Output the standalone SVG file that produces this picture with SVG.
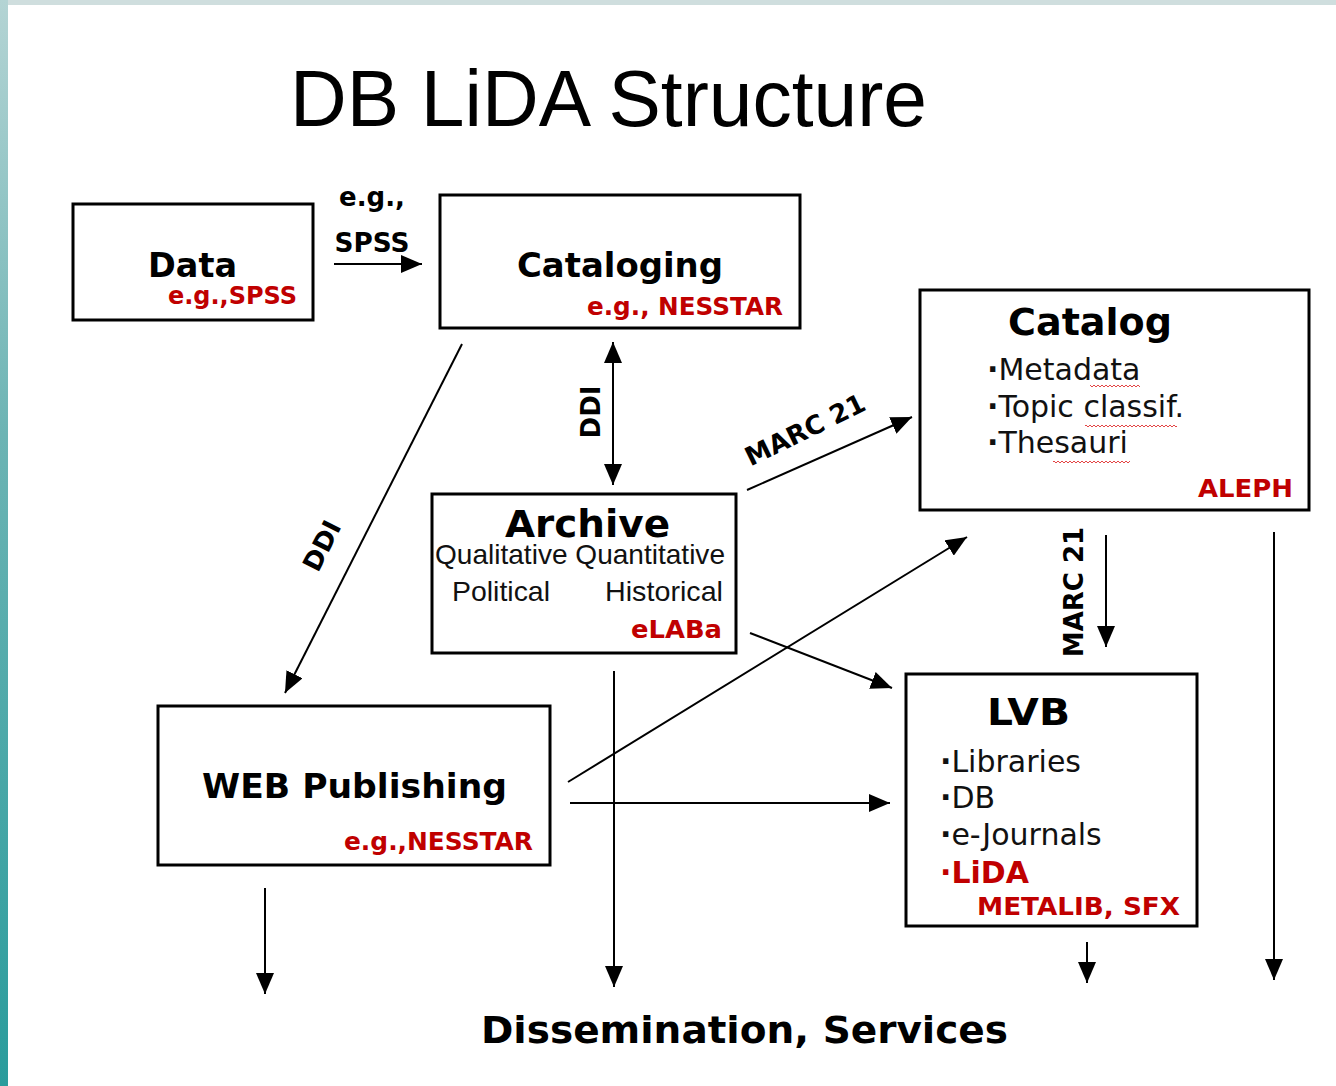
<svg xmlns="http://www.w3.org/2000/svg" width="1336" height="1086" viewBox="0 0 1336 1086">
  <defs>
    <linearGradient id="edge" x1="0" y1="0" x2="0" y2="1">
      <stop offset="0" stop-color="#b4d4d4"/>
      <stop offset="0.4" stop-color="#6cb4b4"/>
      <stop offset="1" stop-color="#2a9c9c"/>
    </linearGradient>
    <marker id="arr" markerUnits="userSpaceOnUse" markerWidth="21" markerHeight="18" refX="21" refY="9" orient="auto-start-reverse">
      <path d="M0,0 L21,9 L0,18 z" fill="#000"/>
    </marker>
    <pattern id="sq" width="4" height="4" patternUnits="userSpaceOnUse">
      <path d="M0,3 L2,1 L4,3" fill="none" stroke="#e03030" stroke-width="0.9"/>
    </pattern>
  </defs>
  <style>
    .box { fill: #fff; stroke: #000; stroke-width: 3; }
    .hd { font-family: "DejaVu Sans", Verdana, sans-serif; font-weight: bold; fill: #000; }
    .red { font-family: "DejaVu Sans", Verdana, sans-serif; font-weight: bold; fill: #c00000; }
    .item { font-family: "DejaVu Sans", Verdana, sans-serif; font-size: 30px; fill: #111; }
    .bul { font-weight: bold; }
    .ar { font-family: "Liberation Sans", Arial, sans-serif; font-size: 28px; fill: #111; }
    .lbl { font-family: "DejaVu Sans", Verdana, sans-serif; font-weight: bold; font-size: 26px; fill: #000; }
    .ln { stroke: #000; stroke-width: 2; fill: none; }
  </style>

  <rect x="0" y="0" width="1336" height="1086" fill="#fff"/>
  <rect x="0" y="0" width="1336" height="5" fill="#cfdede"/>
  <rect x="0" y="0" width="8" height="1086" fill="url(#edge)"/>

  <g id="title">
    <text x="290" y="126" font-family="Liberation Sans, Arial, sans-serif" font-size="80" textLength="637" lengthAdjust="spacingAndGlyphs" fill="#000">DB LiDA Structure</text>
  </g>

  <g id="connectors">
    <line class="ln" x1="334" y1="264" x2="422" y2="264" marker-end="url(#arr)"/>
    <line class="ln" x1="613" y1="342" x2="613" y2="485" marker-start="url(#arr)" marker-end="url(#arr)"/>
    <line class="ln" x1="462" y1="344" x2="285" y2="693" marker-end="url(#arr)"/>
    <line class="ln" x1="747" y1="490" x2="912" y2="417" marker-end="url(#arr)"/>
    <line class="ln" x1="1106" y1="535" x2="1106" y2="647" marker-end="url(#arr)"/>
    <line class="ln" x1="750" y1="633" x2="892" y2="688" marker-end="url(#arr)"/>
    <line class="ln" x1="568" y1="782" x2="967" y2="537" marker-end="url(#arr)"/>
    <line class="ln" x1="570" y1="803" x2="890" y2="803" marker-end="url(#arr)"/>
    <line class="ln" x1="265" y1="888" x2="265" y2="994" marker-end="url(#arr)"/>
    <line class="ln" x1="614" y1="671" x2="614" y2="987" marker-end="url(#arr)"/>
    <line class="ln" x1="1087" y1="942" x2="1087" y2="983" marker-end="url(#arr)"/>
    <line class="ln" x1="1274" y1="532" x2="1274" y2="980" marker-end="url(#arr)"/>

    <text class="lbl" x="372" y="206" font-size="23" text-anchor="middle">e.g.,</text>
    <text class="lbl" x="372" y="252" font-size="25" text-anchor="middle" textLength="75" lengthAdjust="spacingAndGlyphs">SPSS</text>
    <text class="lbl" transform="translate(600,412) rotate(-90)" text-anchor="middle" font-size="27">DDI</text>
    <text class="lbl" transform="translate(330,550) rotate(-63)" text-anchor="middle">DDI</text>
    <text class="lbl" font-size="25" transform="translate(809,438) rotate(-26)" text-anchor="middle">MARC 21</text>
    <text class="lbl" transform="translate(1083,592) rotate(-90)" text-anchor="middle">MARC 21</text>
  </g>

  <g id="node-data">
    <rect class="box" x="73" y="204" width="240" height="116"/>
    <text class="hd" x="148" y="277" font-size="33" textLength="89" lengthAdjust="spacingAndGlyphs">Data</text>
    <text class="red" x="168" y="304" font-size="24" textLength="129" lengthAdjust="spacingAndGlyphs">e.g.,SPSS</text>
  </g>

  <g id="node-cataloging">
    <rect class="box" x="440" y="195" width="360" height="133"/>
    <text class="hd" x="517" y="277" font-size="34" textLength="206" lengthAdjust="spacingAndGlyphs">Cataloging</text>
    <text class="red" x="587" y="315" font-size="24" textLength="196" lengthAdjust="spacingAndGlyphs">e.g., NESSTAR</text>
  </g>

  <g id="node-catalog">
    <rect class="box" x="920" y="290" width="389" height="220"/>
    <text class="hd" x="1008" y="335" font-size="38" textLength="164" lengthAdjust="spacingAndGlyphs">Catalog</text>
    <text class="item" x="987" y="380"><tspan class="bul">·</tspan>Metadata</text>
    <text class="item" x="987" y="417"><tspan class="bul">·</tspan>Topic classif.</text>
    <text class="item" x="987" y="453"><tspan class="bul">·</tspan>Thesauri</text>
    <rect x="1090" y="384" width="50" height="4" fill="url(#sq)"/>
    <rect x="1085" y="424" width="92" height="4" fill="url(#sq)"/>
    <rect x="1053" y="460" width="77" height="4" fill="url(#sq)"/>
    <text class="red" x="1198" y="497" font-size="25" textLength="95" lengthAdjust="spacingAndGlyphs">ALEPH</text>
  </g>

  <g id="node-archive">
    <rect class="box" x="432" y="494" width="304" height="159"/>
    <text class="hd" x="505" y="537" font-size="37" textLength="165" lengthAdjust="spacingAndGlyphs">Archive</text>
    <text class="ar" x="435" y="564" textLength="290" lengthAdjust="spacingAndGlyphs">Qualitative Quantitative</text>
    <text class="ar" x="452" y="601" font-size="29" textLength="98" lengthAdjust="spacingAndGlyphs">Political</text>
    <text class="ar" x="605" y="601" font-size="29" textLength="118" lengthAdjust="spacingAndGlyphs">Historical</text>
    <text class="red" x="631" y="638" font-size="25" textLength="91" lengthAdjust="spacingAndGlyphs">eLABa</text>
  </g>

  <g id="node-lvb">
    <rect class="box" x="906" y="674" width="291" height="252"/>
    <text class="hd" x="987" y="725" font-size="38" textLength="83" lengthAdjust="spacingAndGlyphs">LVB</text>
    <text class="item" x="940" y="772"><tspan class="bul">·</tspan>Libraries</text>
    <text class="item" x="940" y="808"><tspan class="bul">·</tspan>DB</text>
    <text class="item" x="940" y="845"><tspan class="bul">·</tspan>e-Journals</text>
    <text class="red" x="940" y="883" font-size="30">·LiDA</text>
    <text class="red" x="977" y="915" font-size="25" textLength="203" lengthAdjust="spacingAndGlyphs">METALIB, SFX</text>
  </g>

  <g id="node-web">
    <rect class="box" x="158" y="706" width="392" height="159"/>
    <text class="hd" x="202" y="798" font-size="34" textLength="305" lengthAdjust="spacingAndGlyphs">WEB Publishing</text>
    <text class="red" x="344" y="850" font-size="24" textLength="189" lengthAdjust="spacingAndGlyphs">e.g.,NESSTAR</text>
  </g>

  <g id="node-dissemination">
    <text class="hd" x="481" y="1043" font-size="38" textLength="527" lengthAdjust="spacingAndGlyphs">Dissemination, Services</text>
  </g>
</svg>
